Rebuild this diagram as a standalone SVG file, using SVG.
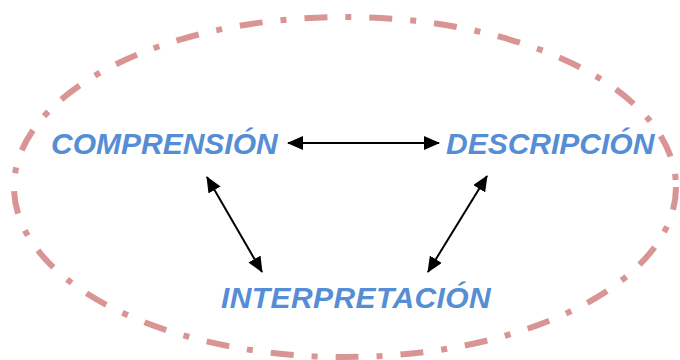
<svg xmlns="http://www.w3.org/2000/svg" width="680" height="360" viewBox="0 0 680 360">
<style>
.lbl{font-family:"Liberation Sans",Arial,sans-serif;font-weight:bold;font-style:italic;font-size:30px;fill:#558ED5}
.con{stroke:#000;stroke-width:2;fill:none}
</style>
<defs>
<marker id="ah" viewBox="0 0 16 14" refX="15" refY="7" markerWidth="16" markerHeight="14" markerUnits="userSpaceOnUse" orient="auto-start-reverse">
<path d="M0,0 L16,7 L0,14 Z" fill="#000"/>
</marker>
</defs>
<rect width="680" height="360" fill="#fff"/>
<ellipse id="frame" cx="345" cy="187" rx="331" ry="170" fill="none" stroke="#D99594" stroke-width="6" stroke-dasharray="23 18 6 18"/>
<g id="comprension"><text class="lbl" x="51" y="154">COMPRENSIÓN</text></g>
<g id="descripcion"><text class="lbl" x="446" y="154">DESCRIPCIÓN</text></g>
<g id="interpretacion"><text class="lbl" x="221" y="308" letter-spacing="0.4">INTERPRETACIÓN</text></g>
<g id="connectors">
<line class="con" x1="288" y1="143" x2="439" y2="143" marker-start="url(#ah)" marker-end="url(#ah)"/>
<line class="con" x1="207" y1="177" x2="262" y2="272" marker-start="url(#ah)" marker-end="url(#ah)"/>
<line class="con" x1="487" y1="176" x2="428" y2="272" marker-start="url(#ah)" marker-end="url(#ah)"/>
</g>
</svg>
